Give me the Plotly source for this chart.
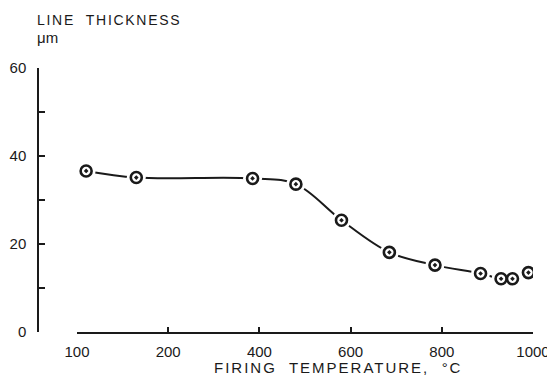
import plotly.graph_objects as go
import numpy as np

# Data
temps = [110, 165, 385, 480, 580, 685, 785, 885, 930, 955, 990]      # firing temperature, °C
thick = [36.6, 35.1, 34.9, 33.6, 25.4, 18.1, 15.2, 13.3, 12.1, 12.1, 13.5]  # line thickness, µm
x_tick_vals = [100, 200, 400, 600, 800, 1000]
y_tick_vals = [0, 10, 20, 30, 40, 50, 60]
y_tick_text = ["0", "", "20", "", "40", "", "60"]


def axis_pos(t):
    # the 100-200 interval is drawn as wide as a 200-degree step
    t = np.asarray(t, dtype=float)
    return np.where(t >= 200, t, 200 - (200 - t) * 2)


xp = axis_pos(temps)
FONT = "Liberation Sans"
INK = "#1a1a1a"

fig = go.Figure()
fig.add_trace(go.Scatter(x=xp, y=thick, mode="lines",
                         line=dict(color=INK, width=2, shape="spline", smoothing=1.0),
                         hoverinfo="skip", showlegend=False))
fig.add_trace(go.Scatter(x=xp, y=thick, mode="markers",
                         marker=dict(symbol="circle", size=19, color="white", line=dict(width=0)),
                         hoverinfo="skip", showlegend=False))
fig.add_trace(go.Scatter(x=xp, y=thick, mode="markers",
                         marker=dict(symbol="circle-dot", size=11, color="white",
                                     line=dict(color=INK, width=2.6)),
                         showlegend=False))

fig.update_layout(
    # the page adds an 8 px body margin, so the figure is 8 px smaller and shifted
    width=547, height=373,
    margin=dict(l=30, r=22, t=60, b=49, autoexpand=False),
    paper_bgcolor="white", plot_bgcolor="white",
    font=dict(family=FONT, size=15, color=INK),
    xaxis=dict(domain=[0.0788, 1], range=[0, 1000], automargin=False,
               tickvals=list(axis_pos(x_tick_vals)), ticktext=[str(v) for v in x_tick_vals],
               ticks="inside", ticklen=5, tickwidth=1.5, tickcolor=INK,
               showline=True, linecolor=INK, linewidth=1.5,
               showgrid=False, zeroline=False, anchor="y", ticklabelstandoff=5),
    yaxis=dict(range=[0, 60], anchor="free", position=0, automargin=False,
               tickvals=y_tick_vals, ticktext=y_tick_text,
               ticks="inside", ticklen=6, tickwidth=1.5, tickcolor=INK,
               showline=True, linecolor=INK, linewidth=1.5,
               showgrid=False, zeroline=False, ticklabelstandoff=8),
    annotations=[
        dict(text='<span style="letter-spacing:2px">FIRING  TEMPERATURE,  °C</span>',
             xref="paper", yref="paper",
             x=0.607, y=-0.133, xanchor="center", yanchor="middle", showarrow=False,
             font=dict(size=15)),
        dict(text='<span style="letter-spacing:1.7px">LINE  THICKNESS</span>',
             xref="paper", yref="paper",
             x=-0.006, y=1.182, xanchor="left", yanchor="middle", showarrow=False,
             font=dict(size=14)),
        dict(text="μm", xref="paper", yref="paper",
             x=-0.006, y=1.114, xanchor="left", yanchor="middle", showarrow=False,
             font=dict(size=15)),
    ],
)

fig.write_html("out.html")
